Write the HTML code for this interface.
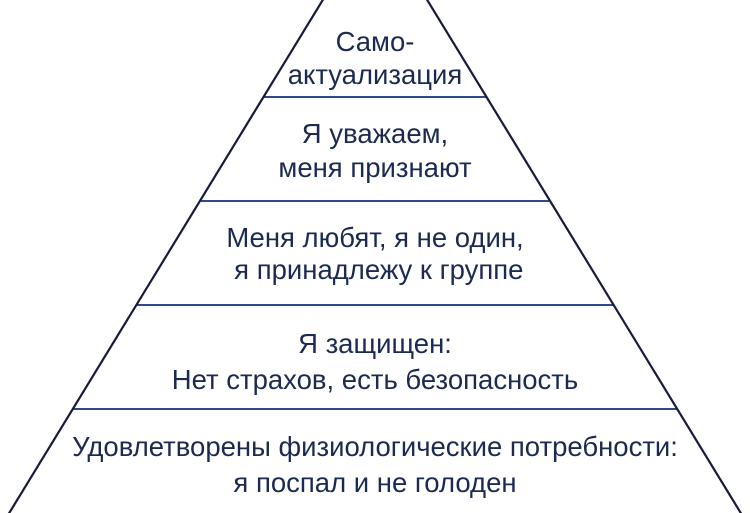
<!DOCTYPE html>
<html><head><meta charset="utf-8"><style>
html,body{margin:0;padding:0;background:#fff}
body{width:750px;height:513px;position:relative;overflow:hidden;font-family:"Liberation Sans",Arial,sans-serif;color:#1c2a52}
svg{position:absolute;left:0;top:0}
.t{position:absolute;left:0;width:750px;text-align:center;font-size:27.5px;line-height:28px;white-space:nowrap}
</style></head><body>
<svg width="750" height="513">
<g stroke="#2f4a8c" stroke-width="2">
<line x1="264" y1="97" x2="486" y2="97"/>
<line x1="201" y1="201" x2="549" y2="201"/>
<line x1="137" y1="305" x2="613" y2="305"/>
<line x1="73" y1="409" x2="677" y2="409"/>
</g>
<g stroke="#161a3e" stroke-width="2.2">
<line x1="324" y1="-2" x2="8" y2="515"/>
<line x1="426" y1="-2" x2="742" y2="515"/>
</g>
</svg>
<div class="t" style="top:28px">Само-</div>
<div class="t" style="top:61px">актуализация</div>
<div class="t" style="top:120px">Я уважаем,</div>
<div class="t" style="top:154px">меня признают</div>
<div class="t" style="top:224px">Меня любят, я не один,</div>
<div class="t" style="top:256px">&nbsp;я принадлежу к группе</div>
<div class="t" style="top:330px">Я защищен:</div>
<div class="t" style="top:366px">Нет страхов, есть безопасность</div>
<div class="t" style="top:433px">Удовлетворены физиологические потребности:</div>
<div class="t" style="top:469px">я поспал и не голоден</div>
</body></html>
